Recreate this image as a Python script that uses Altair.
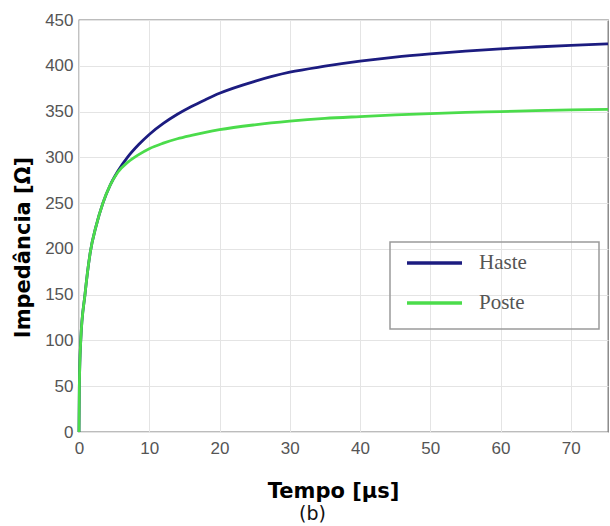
import altair as alt
import pandas as pd

# ---- data ----
t_haste = [0, 0.05, 0.25, 0.85, 1.6, 2.4, 3.4, 4.4, 5.5, 7, 8.5, 10, 12, 14, 16, 18, 20, 25, 30, 35, 40, 45, 50, 55, 60, 65, 70, 75.3]
z_haste = [0, 50, 100, 150, 196, 224, 250, 269, 284.5, 301, 314, 325, 337, 347, 355.5, 363, 370, 383, 393, 399.5, 405, 409.5, 413, 416, 418.5, 420.5, 422.3, 424]

t_poste = [0, 0.05, 0.25, 0.85, 1.6, 2.4, 3.4, 4.4, 5.5, 7, 8.5, 10, 12, 14, 16, 18, 20, 25, 30, 35, 40, 45, 50, 55, 60, 65, 70, 75.3]
z_poste = [0, 50, 100, 150, 196, 224, 250, 269, 283.5, 295, 303, 309.5, 315.5, 320.3, 324, 327.3, 330.2, 335.5, 339.5, 342.5, 344.5, 346.3, 347.8, 349, 350, 351, 351.8, 352.5]

series_names = ["Haste", "Poste"]
series_colors = ["#1c1c80", "#4bdc4b"]

x_ticks = [0, 10, 20, 30, 40, 50, 60, 70]
y_ticks = [0, 50, 100, 150, 200, 250, 300, 350, 400, 450]

rows = []
for t, z in zip(t_haste, z_haste):
    rows.append({"t": t, "z": z, "serie": "Haste"})
for t, z in zip(t_poste, z_poste):
    rows.append({"t": t, "z": z, "serie": "Poste"})
df = pd.DataFrame(rows)

W, H = 529, 412

xscale = alt.Scale(domain=[0, 75.3], nice=False, zero=False)
yscale = alt.Scale(domain=[0, 450], nice=False)
cscale = alt.Scale(domain=series_names, range=series_colors)

lines = alt.Chart(df).mark_line(strokeWidth=2.8, interpolate="monotone").encode(
    x=alt.X("t:Q", scale=xscale,
            axis=alt.Axis(values=x_ticks, title="Tempo [µs]", labelPadding=8, labelFlush=False,
                          titleX=254, titleY=65, titleAlign="center",
                          titleBaseline="alphabetic")),
    y=alt.Y("z:Q", scale=yscale,
            axis=alt.Axis(values=y_ticks, title="Impedância [Ω]", labelPadding=6, labelFlush=False,
                          titleX=-50, titleY=227, titleAngle=270, titleAlign="center",
                          titleBaseline="alphabetic")),
    color=alt.Color("serie:N", scale=cscale, legend=None),
    detail="serie:N",
)

# ---- manual legend (MATLAB style box) ----
leg_df = pd.DataFrame({"serie": series_names})
leg_y = alt.Scale(type="point", domain=series_names, range=[243, 283], padding=0)

box = alt.Chart(pd.DataFrame({"k": [0]})).mark_rect(
    fill="white", fillOpacity=0, stroke="#9a9a9a", strokeWidth=1.5
).encode(x=alt.value(311), x2=alt.value(520), y=alt.value(222), y2=alt.value(309))

leg_lines = alt.Chart(leg_df).mark_rule(strokeWidth=3.5).encode(
    x=alt.value(328), x2=alt.value(383),
    y=alt.Y("serie:N", scale=leg_y, axis=None),
    color=alt.Color("serie:N", scale=cscale, legend=None),
)

leg_text = alt.Chart(leg_df).mark_text(
    align="left", baseline="middle", font="Liberation Serif", fontSize=21, color="#555555"
).encode(
    x=alt.value(400),
    y=alt.Y("serie:N", scale=leg_y, axis=None),
    text="serie:N",
)

legend = alt.layer(box, leg_lines, leg_text)

chart = alt.layer(lines, legend).resolve_scale(y="independent").properties(
    width=W, height=H,
    title=alt.TitleParams(text="(b)", orient="bottom", font="DejaVu Sans", fontSize=19,
                          fontWeight="normal", color="#111111", anchor="middle", dx=-31, offset=4),
    autosize=alt.AutoSizeParams(type="none"),
    padding={"left": 79, "top": 20, "right": 2, "bottom": 94},
).configure_view(
    stroke="#7a7a7a", strokeWidth=1.3
).configure_axis(
    grid=True, gridColor="#e4e4e4", gridWidth=1,
    domain=False, ticks=False, tickSize=0,
    labelFont="Liberation Sans", labelFontSize=17, labelColor="#555555",
    titleFont="DejaVu Sans", titleFontSize=21, titleFontWeight="bold", titleColor="#000000",
)

chart.save("out.html", embed_options={"renderer": "svg", "actions": False})
